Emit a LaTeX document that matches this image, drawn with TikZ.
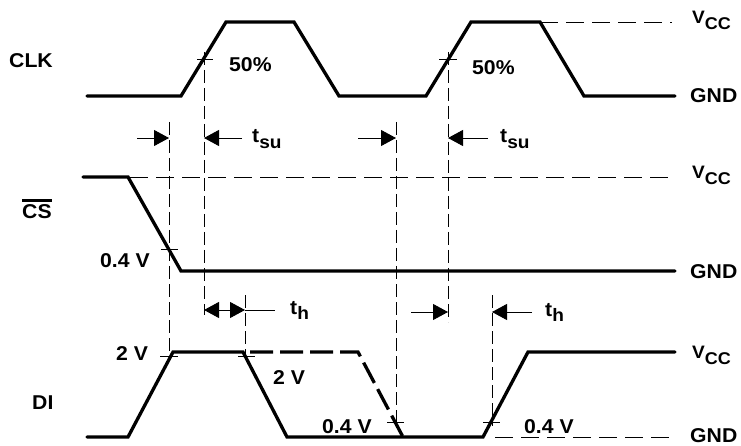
\documentclass[tikz,border=0pt]{standalone}
\usepackage{fontspec}
\setmainfont[FakeStretch=1.06]{Liberation Sans}
\usetikzlibrary{arrows.meta}
\newcommand{\vccl}{{\fontsize{18}{18}\selectfont V\raisebox{-6pt}{\fontsize{17}{17}\selectfont CC}}}
\newcommand{\tsubx}[1]{t\raisebox{-5.5pt}{\fontsize{18}{18}\selectfont #1}}
\begin{document}
\begin{tikzpicture}[x=1pt,y=-1pt,
  sig/.style={line width=3.3pt, line cap=round, line join=miter},
  sigdash/.style={line width=3.3pt, line cap=butt, dash pattern=on 23pt off 7pt},
  guide/.style={line width=0.9pt, dash pattern=on 13pt off 5pt},
  hguide/.style={line width=0.9pt, dash pattern=on 18pt off 8pt},
  tickm/.style={line width=0.8pt},
  meas/.style={line width=0.9pt},
  arr/.style={-{Triangle[length=15pt,width=16pt]}, line width=0.9pt},
  lbl/.style={inner sep=0pt, anchor=base west, font=\bfseries\fontsize{20}{22}\selectfont},
]
\useasboundingbox (0,0) rectangle (741,446);

% signal names
\node[lbl] (clk) at (9,68) {CLK};
\node[lbl] (cs) at (22,219) {\vbox{\hrule height 3pt\kern 3.5pt\hbox{CS}}};
\node[lbl] (di) at (32,409) {DI};

% level labels
\node[lbl] (vcc1) at (692,24) {\vccl};
\node[lbl] (gnd1) at (690,103) {GND};
\node[lbl] (vcc2) at (692,179) {\vccl};
\node[lbl] (gnd2) at (690,278) {GND};
\node[lbl] (vcc3) at (692,358) {\vccl};
\node[lbl] (gnd3) at (690,442) {GND};

% waveforms
\draw[sig] (87,96) -- (181,96) -- (226,22) -- (294,22) -- (339,96) -- (426,96)
  -- (471,22) -- (540,22) -- (584,96) -- (675,96);
\draw[sig] (83,177) -- (128,177) -- (181,271) -- (675,271);
\draw[sig] (87,437) -- (128,437) -- (173,352) -- (243,352) -- (287,437) -- (483,437)
  -- (528,352) -- (675,352);
\draw[sigdash] (250,352) -- (358,352) -- (403,437);

% level guides
\draw[hguide] (540,22) -- (672,22);
\draw[hguide] (130,177) -- (672,177);
\draw[hguide] (495,437) -- (672,437);

% vertical guides
\draw[guide] (169,122) -- (169,358);
\draw[guide] (204,52) -- (204,315);
\draw[guide] (245,295) -- (245,358);
\draw[guide] (396,122) -- (396,426);
\draw[guide] (448,52) -- (448,322);
\draw[guide] (492,295) -- (492,426);

% crossing ticks
\draw[tickm] (197,59) -- (213,59);
\draw[tickm] (439,59) -- (457,59);
\draw[tickm] (161,249) -- (178,249);
\draw[tickm] (160,356) -- (178,356);
\draw[tickm] (238,356) -- (255,356);
\draw[tickm] (387,422) -- (404,422);
\draw[tickm] (483,422) -- (500,422);

% timing arrows
\draw[arr] (137,138) -- (169,138);
\draw[arr] (242,138) -- (204,138);
\draw[arr] (358,138) -- (396,138);
\draw[arr] (488,138) -- (448,138);
\draw[arr] (224,310) -- (204,310);
\draw[arr] (224,310) -- (245,310);
\draw[meas] (245,310) -- (275,310);
\draw[arr] (411,312) -- (448,312);
\draw[arr] (532,312) -- (492,312);

% annotations
\node[lbl] at (229,72) {50\%};
\node[lbl] at (472,75) {50\%};
\node[lbl] at (252,143) {\tsubx{su}};
\node[lbl] at (500,143) {\tsubx{su}};
\node[lbl] at (290,314) {\tsubx{h}};
\node[lbl] at (545,316) {\tsubx{h}};
\node[lbl] at (100,267) {0.4 V};
\node[lbl] at (116,360) {2 V};
\node[lbl] at (273,384) {2 V};
\node[lbl] at (322,433) {0.4 V};
\node[lbl] at (524,433) {0.4 V};
\end{tikzpicture}
\end{document}
